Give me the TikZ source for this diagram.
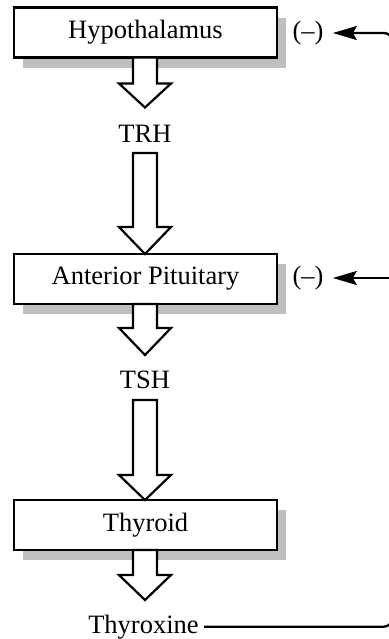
\documentclass[tikz,border=0pt]{standalone}
\usepackage{fontspec}
\setmainfont{Liberation Serif}
\usetikzlibrary{arrows.meta,shadows,calc}
\tikzset{
  organ/.style={draw=black, line width=1.25pt, fill=white, minimum width=131.5pt, minimum height=25pt,
    inner sep=0pt, font=\fontsize{13.25pt}{16pt}\selectfont,
    drop shadow={shadow xshift=4.5pt, shadow yshift=-5pt, fill=black!25, opacity=1}},
  lbl/.style={inner sep=0pt, font=\fontsize{13.25pt}{16pt}\selectfont},
  blk/.style={draw=black, line width=1.1pt, fill=white, line join=miter},
  fb/.style={draw=black, line width=1.15pt},
  fbtip/.style={-{Stealth[length=12pt, width=7pt, inset=2pt]}}
}
\newcommand{\blockarr}[3]{%
  \draw[blk] ($(#1)+(-12,0)$) -- ($(#1)+(-12,#2)$) -- ($(#1)+(-26,#2)$)
    -- ($(#1)+(0,#2+#3)$) -- ($(#1)+(26,#2)$) -- ($(#1)+(12,#2)$) -- ($(#1)+(12,0)$) -- cycle;}
\begin{document}
\begin{tikzpicture}[x=0.5pt, y=-0.5pt]
\useasboundingbox (0,0) rectangle (389,639);
\clip (0,0) rectangle (389,639);
% boxes
\node[organ] (hyp) at (145.5,32.5) {Hypothalamus};
\node[organ] (ap)  at (145.5,279) {Anterior Pituitary};
\node[organ] (thy) at (145.5,525) {Thyroid};
% labels
\node[lbl, anchor=base] (trh) at (145,142) {TRH};
\node[lbl, anchor=base] (tsh) at (145,388) {TSH};
\node[lbl, anchor=base] (thyx) at (143.5,633) {Thyroxine};
\node[lbl] (m1) at (308,33) {(–)};
\node[lbl] (m2) at (308,278) {(–)};
% block arrows
\coordinate (a1) at (145,57.5);
\coordinate (a2) at (145,153);
\coordinate (a3) at (145,304);
\coordinate (a4) at (145,400);
\coordinate (a5) at (145,550);
\blockarr{a1}{26}{24}
\blockarr{a2}{74}{27}
\blockarr{a3}{24}{27}
\blockarr{a4}{75}{25}
\blockarr{a5}{25}{25}
% feedback
\coordinate (rt) at (392,33);
\coordinate (rj) at (392,278);
\draw[fb, fbtip, rounded corners=4pt] ([xshift=2.5pt]thyx.east) -| (rt) -- ([xshift=4.5pt]m1.east);
\draw[fb, fbtip] (rj) -- ([xshift=4.5pt]m2.east);
\end{tikzpicture}
\end{document}
